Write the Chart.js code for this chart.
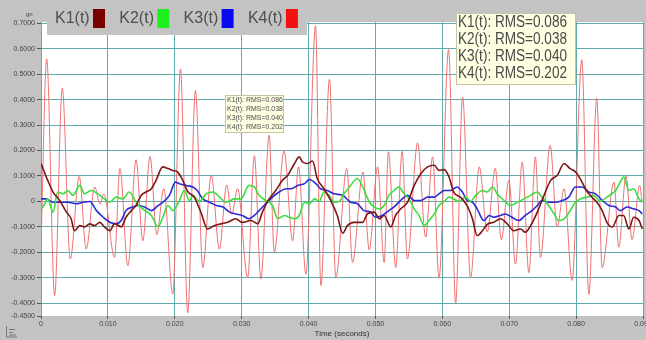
<!DOCTYPE html>
<html>
<head>
<meta charset="utf-8">
<script src="https://cdn.jsdelivr.net/npm/chart.js@4.4.0/dist/chart.umd.min.js"></script>
<style>
  html, body { margin: 0; padding: 0; background: #c3c3c3; }
  #wrap { width: 646px; height: 340px; }
</style>
</head>
<body>
<div id="wrap"><canvas id="chart" width="646" height="340"></canvas></div>
<script>
// ── Data (time in seconds, acceleration in g) ───────────────────────────────
const K1_T = [0, 0.0010, 0.0018, 0.0028, 0.0038, 0.0045, 0.0050, 0.0058, 0.0065, 0.0073,
  0.0080, 0.0088, 0.0095, 0.0103, 0.0110, 0.0120, 0.0127, 0.0135, 0.0142, 0.0150,
  0.0157, 0.0165, 0.0172, 0.0182, 0.0190, 0.0197, 0.0204, 0.0212, 0.0219, 0.0229,
  0.0239, 0.0249, 0.0259, 0.0269, 0.0279, 0.0291, 0.0301, 0.0314, 0.0324, 0.0331,
  0.0341, 0.0351, 0.0361, 0.0369, 0.0379, 0.0386, 0.0391, 0.0399, 0.0406, 0.0413,
  0.0423, 0.0433, 0.0443, 0.0451, 0.0458, 0.0468, 0.0481, 0.0488, 0.0498, 0.0506,
  0.0513, 0.0523, 0.0530, 0.0538, 0.0548, 0.0558, 0.0568, 0.0578, 0.0588, 0.0595,
  0.0603, 0.0610, 0.0617, 0.0627, 0.0637, 0.0645, 0.0652, 0.0660, 0.0667, 0.0677,
  0.0687, 0.0697, 0.0707, 0.0717, 0.0724, 0.0732, 0.0742, 0.0752, 0.0762, 0.0772,
  0.0782, 0.0791, 0.0799, 0.0806, 0.0814, 0.0821, 0.0831, 0.0839, 0.0846, 0.0854,
  0.0864, 0.0871, 0.0879, 0.0886, 0.0894, 0.0899];
const K1_V = [0.149, 0.083, 0.037, 0.004, -0.042, -0.068, -0.115, -0.095, -0.100, -0.088,
  -0.095, -0.082, -0.100, -0.115, -0.087, -0.100, -0.062, -0.036, -0.016, 0.024,
  0.037, 0.050, 0.083, 0.136, 0.129, 0.122, 0.116, 0.083, 0.040, 0.017,
  -0.042, -0.108, -0.095, -0.088, -0.082, -0.068, -0.082, -0.075, -0.088, -0.042,
  0.010, 0.043, 0.083, 0.103, 0.149, 0.175, 0.155, 0.149, 0.159, 0.090,
  0.050, 0.004, -0.055, -0.125, -0.095, -0.082, -0.082, -0.049, -0.042, -0.068,
  -0.055, -0.100, -0.055, -0.029, -0.003, 0.063, 0.110, 0.136, 0.142, 0.122,
  0.125, 0.096, 0.037, 0.017, -0.016, -0.068, -0.134, -0.115, -0.090, -0.082,
  -0.068, -0.088, -0.115, -0.108, -0.121, -0.095, -0.042, 0.024, 0.083, 0.103,
  0.149, 0.129, 0.116, 0.090, 0.050, 0.024, -0.003, -0.036, -0.082, -0.100,
  -0.055, -0.055, -0.108, -0.062, -0.075, -0.108];

const K2_T = [0, 0.0003, 0.0010, 0.0018, 0.0025, 0.0033, 0.0040, 0.0048, 0.0058, 0.0065,
  0.0075, 0.0085, 0.0095, 0.0103, 0.0112, 0.0122, 0.0132, 0.0142, 0.0152, 0.0165,
  0.0175, 0.0182, 0.0190, 0.0197, 0.0207, 0.0214, 0.0222, 0.0227, 0.0237, 0.0247,
  0.0257, 0.0267, 0.0277, 0.0289, 0.0299, 0.0311, 0.0319, 0.0326, 0.0336, 0.0346,
  0.0354, 0.0364, 0.0371, 0.0379, 0.0386, 0.0394, 0.0401, 0.0409, 0.0416, 0.0423,
  0.0431, 0.0438, 0.0446, 0.0453, 0.0463, 0.0473, 0.0481, 0.0491, 0.0498, 0.0506,
  0.0513, 0.0520, 0.0528, 0.0535, 0.0543, 0.0550, 0.0558, 0.0565, 0.0573, 0.0580,
  0.0588, 0.0595, 0.0603, 0.0610, 0.0617, 0.0625, 0.0635, 0.0642, 0.0650, 0.0660,
  0.0667, 0.0675, 0.0682, 0.0692, 0.0702, 0.0712, 0.0722, 0.0732, 0.0742, 0.0749,
  0.0759, 0.0767, 0.0774, 0.0782, 0.0791, 0.0799, 0.0806, 0.0816, 0.0826, 0.0836,
  0.0846, 0.0859, 0.0866, 0.0871, 0.0879, 0.0886, 0.0894, 0.0899];
const K2_V = [-0.030, -0.022, 0.010, -0.042, 0.037, 0.030, 0.043, 0.024, 0.063, 0.030,
  0.043, 0.030, 0.010, -0.003, 0.017, 0.010, 0.037, -0.003, -0.029, -0.055,
  -0.100, -0.062, -0.016, -0.036, 0.004, 0.043, 0.004, 0.024, 0.000, 0.030,
  0.037, 0.017, -0.003, 0.010, 0.010, 0.063, 0.057, 0.024, 0.004, -0.016,
  -0.068, -0.055, -0.062, -0.068, -0.055, -0.003, -0.009, 0.010, 0.000, 0.037,
  0.024, -0.003, 0.000, 0.030, 0.063, 0.090, 0.057, -0.003, -0.022, -0.029,
  -0.016, 0.024, 0.043, 0.057, 0.030, 0.010, -0.029, -0.055, -0.095, -0.075,
  -0.049, -0.016, 0.000, 0.017, 0.010, 0.000, 0.017, 0.000, 0.024, 0.043,
  0.037, 0.057, 0.030, 0.004, -0.016, -0.003, 0.010, 0.024, 0.037, 0.017,
  -0.016, -0.049, -0.075, -0.068, -0.036, -0.003, 0.010, 0.017, 0.024, 0.000,
  0.017, 0.043, 0.076, 0.096, 0.043, 0.050, 0.010, -0.003];

const K3_T = [0, 0.0008, 0.0018, 0.0028, 0.0040, 0.0053, 0.0063, 0.0073, 0.0083, 0.0093,
  0.0103, 0.0112, 0.0120, 0.0127, 0.0137, 0.0145, 0.0155, 0.0165, 0.0175, 0.0182,
  0.0192, 0.0201, 0.0207, 0.0217, 0.0227, 0.0233, 0.0242, 0.0252, 0.0262, 0.0272,
  0.0282, 0.0291, 0.0301, 0.0311, 0.0319, 0.0326, 0.0336, 0.0346, 0.0356, 0.0366,
  0.0374, 0.0384, 0.0394, 0.0401, 0.0411, 0.0418, 0.0428, 0.0438, 0.0451, 0.0463,
  0.0473, 0.0483, 0.0493, 0.0500, 0.0510, 0.0520, 0.0530, 0.0540, 0.0548, 0.0558,
  0.0568, 0.0578, 0.0588, 0.0595, 0.0603, 0.0612, 0.0622, 0.0630, 0.0637, 0.0645,
  0.0652, 0.0662, 0.0670, 0.0677, 0.0687, 0.0694, 0.0704, 0.0714, 0.0724, 0.0734,
  0.0742, 0.0749, 0.0759, 0.0769, 0.0779, 0.0789, 0.0799, 0.0809, 0.0819, 0.0829,
  0.0839, 0.0849, 0.0859, 0.0866, 0.0876, 0.0886, 0.0894, 0.0899];
const K3_V = [0.010, 0.010, -0.003, -0.003, -0.003, -0.009, -0.003, 0.000, -0.036, -0.062,
  -0.082, -0.088, -0.075, -0.036, -0.022, -0.016, -0.022, -0.036, -0.016, -0.003,
  0.024, 0.076, 0.070, 0.063, 0.057, 0.045, 0.010, -0.003, -0.016, -0.022,
  -0.042, -0.049, -0.055, -0.068, -0.055, -0.036, -0.009, 0.017, 0.037, 0.050,
  0.050, 0.063, 0.070, 0.086, 0.070, 0.050, 0.043, 0.030, 0.024, -0.003,
  -0.009, -0.036, -0.042, -0.062, -0.055, -0.036, -0.016, 0.010, 0.024, 0.004,
  0.004, 0.017, 0.017, 0.030, 0.043, 0.043, 0.057, 0.037, 0.004, -0.003,
  -0.029, -0.075, -0.055, -0.062, -0.055, -0.049, -0.062, -0.075, -0.055, -0.036,
  -0.016, 0.004, -0.003, -0.003, 0.004, 0.017, 0.057, 0.057, 0.037, 0.030,
  0.004, -0.016, -0.022, -0.036, -0.022, -0.029, -0.036, -0.049];

// K4 is spiky: peaks and troughs
const K4_T = [0, 0.00085, 0.00204, 0.00318, 0.00437, 0.00572, 0.00676, 0.00803, 0.00881, 0.0094,
  0.0110, 0.01179, 0.01299, 0.01421, 0.01522, 0.0163, 0.01731, 0.01836, 0.0197, 0.02085,
  0.02194, 0.02309, 0.02418, 0.02545, 0.02667, 0.02776, 0.02851, 0.0294, 0.0309, 0.0319,
  0.03288, 0.0341, 0.03488, 0.03634, 0.03761, 0.03851, 0.0396, 0.04104, 0.04184, 0.04313,
  0.04407, 0.04572, 0.04657, 0.04813, 0.04906, 0.05033, 0.0513, 0.05194, 0.05303, 0.05399,
  0.05478, 0.0563, 0.05751, 0.05855, 0.05951, 0.06094, 0.06199, 0.06303, 0.06422, 0.06552,
  0.06672, 0.06791, 0.06881, 0.06996, 0.07094, 0.07194, 0.07294, 0.07391, 0.07467, 0.07612,
  0.07716, 0.07821, 0.0794, 0.08085, 0.0819, 0.08309, 0.08388, 0.08567, 0.08637, 0.08746,
  0.08836, 0.08951, 0.08985];
const K4_V = [-0.18, 0.56, -0.37, 0.445, -0.226, 0.098, -0.187, 0.057, -0.01, 0.03,
  -0.22, 0.13, -0.253, 0.164, -0.155, 0.177, -0.13, 0.05, -0.364, 0.52,
  -0.437, 0.436, -0.26, 0.103, -0.187, 0.065, -0.05, 0.05, -0.30, 0.18,
  -0.305, 0.26, -0.20, 0.20, -0.155, 0.136, -0.286, 0.69, -0.33, 0.48,
  -0.30, 0.13, -0.24, 0.116, -0.19, 0.136, -0.24, 0.195, -0.26, 0.197,
  -0.226, 0.23, -0.14, 0.175, -0.30, 0.597, -0.40, 0.41, -0.30, 0.136,
  -0.12, 0.13, -0.15, 0.083, -0.246, 0.155, -0.28, 0.175, -0.22, 0.22,
  -0.10, 0.05, -0.31, 0.557, -0.365, 0.406, -0.26, 0.076, -0.18, 0.10,
  -0.15, 0.063, 0.0];

const SERIES_NAMES = ["K1(t)", "K2(t)", "K3(t)", "K4(t)"];
const RMS_VALUES = ["0.086", "0.038", "0.040", "0.202"];

const X_TICKS = [0, 0.01, 0.02, 0.03, 0.04, 0.05, 0.06, 0.07, 0.08, 0.09];
const X_TICK_LABELS = ["0", "0.010", "0.020", "0.030", "0.040", "0.050", "0.060", "0.070", "0.080", "0.090"];
const Y_TICKS = [-0.45, -0.4, -0.3, -0.2, -0.1, 0, 0.1, 0.2, 0.3, 0.4, 0.5, 0.6, 0.7];
const Y_TICK_LABELS = ["-0.4500", "-0.4000", "-0.3000", "-0.2000", "-0.1000", "0",
  "0.1000", "0.2000", "0.3000", "0.4000", "0.5000", "0.6000", "0.7000"];

// ── Styles ───────────────────────────────────────────────────────────────────
const FONT = "'Liberation Sans', Arial, sans-serif";
const BG = "#c3c3c3";
const GRID = "#62aaac";
const LINE_COLORS = ["#7d1616", "#3ddc3d", "#2a2ad6", "#f07272"];
const LINE_WIDTHS = [1.6, 1.6, 1.6, 1];
const SWATCH_COLORS = ["#7a0000", "#1ef01e", "#0a0af0", "#f21010"];

Chart.defaults.font.family = FONT;

function points(ts, vs) {
  return ts.map((t, i) => ({ x: t, y: vs[i] }));
}

// ── Decorations: background, legend bar, RMS boxes ─────────────────────────
const decorPlugin = {
  id: "decor",
  beforeDraw(chart) {
    const { ctx, chartArea: a } = chart;
    ctx.save();
    ctx.fillStyle = BG;
    ctx.fillRect(0, 0, chart.width, chart.height);
    ctx.fillStyle = "#ffffff";
    ctx.fillRect(a.left, a.top, a.right - a.left, a.bottom - a.top);
    ctx.restore();
  },
  afterDraw(chart) {
    const ctx = chart.ctx;
    ctx.save();

    // legend bar at the top
    ctx.fillStyle = BG;
    ctx.fillRect(47, 0, 260, 35);
    ctx.font = "16px " + FONT;
    ctx.textBaseline = "middle";
    SERIES_NAMES.forEach((name, i) => {
      const x = 55 + i * 64.3;
      ctx.fillStyle = "#4e4e4e";
      ctx.fillText(name, x, 19);
      ctx.fillStyle = SWATCH_COLORS[i];
      ctx.fillRect(x + 38, 9, 12, 19);
    });

    // unit label
    ctx.fillStyle = "#444";
    ctx.font = "6px " + FONT;
    ctx.fillText("gn", 26, 14);

    // big RMS box
    drawRmsBox(ctx, 456, 13, 120, 72, 16, 109, 16.7, 23);
    // small RMS box
    drawRmsBox(ctx, 225, 95, 59, 38, 7, 56, 9, 100.5);

    // little icon bottom-left
    ctx.strokeStyle = "#777";
    ctx.lineWidth = 1;
    ctx.beginPath();
    ctx.moveTo(6.5, 326); ctx.lineTo(6.5, 337); ctx.lineTo(17, 337);
    ctx.moveTo(9, 329.5); ctx.lineTo(15, 329.5);
    ctx.moveTo(9, 332.5); ctx.lineTo(13, 332.5);
    ctx.moveTo(9, 335); ctx.lineTo(16, 335);
    ctx.stroke();

    ctx.restore();
  },
};

function drawRmsBox(ctx, x, y, w, h, size, textW, lineH, firstY) {
  ctx.fillStyle = "#ffffe3";
  ctx.fillRect(x, y, w, h);
  ctx.strokeStyle = "#c4c4a8";
  ctx.lineWidth = 1;
  ctx.strokeRect(x + 0.5, y + 0.5, w - 1, h - 1);
  ctx.fillStyle = "#4a4a4a";
  ctx.font = size + "px " + FONT;
  ctx.textBaseline = "middle";
  SERIES_NAMES.forEach((name, i) => {
    const txt = name + ": RMS=" + RMS_VALUES[i];
    const mw = ctx.measureText(txt).width;
    const sx = Math.min(1, textW / mw);
    ctx.save();
    ctx.translate(x + 2, firstY + i * lineH);
    ctx.scale(sx, 1);
    ctx.fillText(txt, 0, 0);
    ctx.restore();
  });
}

// ── Chart ────────────────────────────────────────────────────────────────────
const datasets = [
  [K1_T, K1_V], [K2_T, K2_V], [K3_T, K3_V], [K4_T, K4_V],
].map(([ts, vs], i) => ({
  label: SERIES_NAMES[i],
  data: points(ts, vs),
  borderColor: LINE_COLORS[i],
  borderWidth: LINE_WIDTHS[i],
  pointRadius: 0,
  fill: false,
  cubicInterpolationMode: "monotone",
}));

new Chart(document.getElementById("chart"), {
  type: "line",
  data: { datasets },
  plugins: [decorPlugin],
  options: {
    responsive: false,
    animation: false,
    devicePixelRatio: 1,
    layout: { padding: { top: 22, right: 3, bottom: 0, left: 0 } },
    plugins: { legend: { display: false }, tooltip: { enabled: false } },
    scales: {
      x: {
        type: "linear",
        min: 0,
        max: 0.09,
        afterBuildTicks: (s) => { s.ticks = X_TICKS.map((v) => ({ value: v })); },
        afterFit: (s) => { s.height = 24; s.paddingLeft = 0; s.paddingRight = 0; },
        ticks: {
          autoSkip: false,
          maxRotation: 0,
          padding: 1,
          color: "#444",
          font: { size: 7 },
          callback: (v, i) => X_TICK_LABELS[i],
        },
        grid: { color: GRID, tickColor: "#555", tickLength: 3 },
        border: { display: false },
        title: { display: true, text: "Time (seconds)", color: "#333", font: { size: 8 }, padding: { top: 0, bottom: 1 } },
      },
      y: {
        min: -0.45,
        max: 0.705,
        afterBuildTicks: (s) => { s.ticks = Y_TICKS.map((v) => ({ value: v })); },
        afterFit: (s) => { s.width = 41; s.paddingTop = 0; s.paddingBottom = 0; },
        ticks: {
          autoSkip: false,
          padding: 2,
          color: "#444",
          font: { size: 7 },
          callback: (v, i) => Y_TICK_LABELS[i],
        },
        grid: {
          color: (c) => (c.tick && c.tick.value === -0.45 ? "rgba(0,0,0,0)" : GRID),
          tickColor: "#555",
          tickLength: 4,
        },
        border: { display: false },
      },
    },
  },
});
</script>
</body>
</html>
